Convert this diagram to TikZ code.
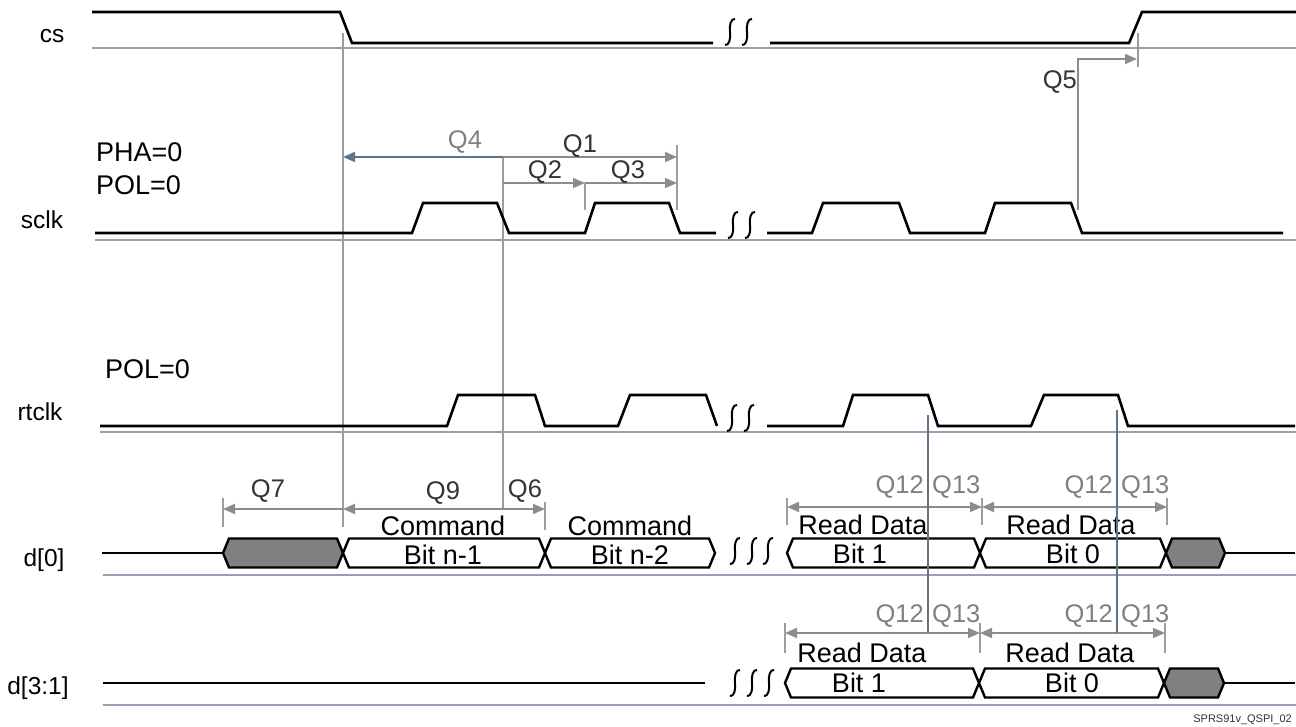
\documentclass[tikz,border=0pt]{standalone}
\usepackage{fontspec}
\setmainfont{Liberation Sans}
\usetikzlibrary{arrows.meta}
\definecolor{lav}{HTML}{9C9CB8}
\definecolor{dimg}{HTML}{8C8C8C}
\definecolor{slate}{HTML}{5E7684}
\definecolor{qdark}{HTML}{333333}
\definecolor{qlight}{HTML}{808080}
\definecolor{busgray}{HTML}{808080}
\newcommand\hexbus[4][white]{\filldraw[busline,fill=#1] (#2,#4) -- (#2+6,#4-14.5) -- (#3-6,#4-14.5) -- (#3,#4) -- (#3-6,#4+14.5) -- (#2+6,#4+14.5) -- cycle;}
\begin{document}
\begin{tikzpicture}[x=1pt,y=-1pt,
  sig/.style={line width=2.6pt,draw=black,line join=miter},
  busline/.style={line width=2.4pt,draw=black,line join=miter},
  basel/.style={line width=2.6pt,draw=lav},
  dimline/.style={line width=1.8pt,draw=dimg,fill=dimg},
  vline/.style={line width=1.8pt,draw=dimg!85!white},
  rtv/.style={line width=1.3pt,draw=slate},
  arr/.style={-{Triangle[length=12pt,width=10pt]}},
  arrb/.style={{Triangle[length=12pt,width=10pt]}-{Triangle[length=12pt,width=10pt]}},
  lab/.style={font=\fontsize{24.5}{28}\selectfont,anchor=base,inner sep=0pt},
  big/.style={font=\fontsize{27}{30}\selectfont,anchor=base,inner sep=0pt},
  q/.style={font=\fontsize{25.5}{28}\selectfont,anchor=base,inner sep=0pt,text=qdark},
  ql/.style={q,text=qlight},
  squig/.pic={\draw[line width=2pt,draw=black] (-5,13) .. controls (-1,14) and (1,6) .. (0,0) .. controls (-1,-6) and (1,-14) .. (5,-13);}
]
\useasboundingbox (0,0) rectangle (1296,727);

% baselines
\draw[basel] (92,48) -- (1296,48);
\draw[basel] (95,240) -- (1296,240);
\draw[basel] (100,432) -- (1296,432);
\draw[basel] (103,575) -- (1296,575);
\draw[basel] (103,705) -- (1296,705);

% signal labels
\node[lab] (lcs) at (52,43) {cs};
\node[lab] (lsclk) at (42,229) {sclk};
\node[lab] (lrt) at (40,420) {rtclk};
\node[lab] (ld0) at (44,566) {d[0]};
\node[lab] (ld31) at (38,694) {d[3:1]};
\node[big,anchor=base west] (pha) at (96,162) {PHA=0};
\node[big,anchor=base west] (pol1) at (96,195) {POL=0};
\node[big,anchor=base west] (pol2) at (105,378) {POL=0};

% coordinates for verticals and ticks
\coordinate (v1t) at (343,33);
\coordinate (v1b) at (343,527);
\coordinate (v2t) at (503,157);
\coordinate (v2b) at (503,509);
\coordinate (q4l) at (343,157);
\coordinate (q1r) at (677,157);
\coordinate (q2m) at (503,183);
\coordinate (q3l) at (585,183);
\coordinate (q3r) at (677,183);
\coordinate (t1t) at (677,145);
\coordinate (t1b) at (677,210);
\coordinate (t2b) at (585,210);
\coordinate (q5b) at (1078,210);
\coordinate (q5c) at (1078,59);
\coordinate (q5r) at (1137,59);
\coordinate (t5t) at (1138,33);
\coordinate (t5b) at (1138,67);
\coordinate (q7l) at (223,509);
\coordinate (q7r) at (343,509);
\coordinate (q6r) at (545,509);
\coordinate (t7t) at (223,498);
\coordinate (t7b) at (223,527);
\coordinate (t6t) at (545,502);
\coordinate (t6b) at (545,530);

% verticals
\draw[vline] (v1t) -- (v1b);
\draw[vline] (v2t) -- (v2b);
\draw[vline] (t1t) -- (t1b);
\draw[vline] (q3l) -- (t2b);
\draw[vline] (t5t) -- (t5b);
\draw[vline] (t7t) -- (t7b);
\draw[vline] (t6t) -- (t6b);

% dimension arrows top
\draw[line width=1.8pt,draw=slate,fill=slate,arr] (v2t) -- (q4l);
\draw[dimline,arr] (v2t) -- (q1r);
\draw[dimline,arr] (q2m) -- (q3l);
\draw[dimline,arr] (q3l) -- (q3r);
\draw[dimline,fill=none,arr] (q5b) -- (q5c) -- (q5r);
\node[ql] (tq4) at (465,149) {Q4};
\node[q] (tq1) at (580,153) {Q1};
\node[q] (tq2) at (545,179) {Q2};
\node[q] (tq3) at (628,179) {Q3};
\node[q,anchor=base east] (tq5) at (1077,89) {Q5};

% d0 dims
\draw[dimline,arr] (q7r) -- (q7l);
\draw[dimline,arr] (v2b) -- (q7r);
\draw[dimline,arr] (v2b) -- (q6r);
\node[q] (tq7) at (268,497) {Q7};
\node[q] (tq9) at (443,499) {Q9};
\node[q] (tq6) at (525,497) {Q6};

% Q12/Q13 dims, d0
\foreach \x in {787,982,1167} {\draw[vline] (\x,498) -- (\x,525);}
\coordinate (a1) at (787,507);
\coordinate (a2) at (982,507);
\coordinate (a3) at (1167,507);
\draw[dimline,arrb] (a1) -- (a2);
\draw[dimline,arrb] (a2) -- (a3);
\node[ql,anchor=base east] at (924,493) {Q12};
\node[ql,anchor=base west] at (932,493) {Q13};
\node[ql,anchor=base east] at (1113,493) {Q12};
\node[ql,anchor=base west] at (1121,493) {Q13};

% Q12/Q13 dims, d31
\foreach \x in {785,980,1165} {\draw[vline] (\x,623) -- (\x,653);}
\coordinate (b1) at (785,633);
\coordinate (b2) at (980,633);
\coordinate (b3) at (1165,633);
\draw[dimline,arrb] (b1) -- (b2);
\draw[dimline,arrb] (b2) -- (b3);
\node[ql,anchor=base east] at (924,622) {Q12};
\node[ql,anchor=base west] at (932,622) {Q13};
\node[ql,anchor=base east] at (1113,622) {Q12};
\node[ql,anchor=base west] at (1121,622) {Q13};

% rtclk verticals
\coordinate (r1t) at (928,415);
\coordinate (r1b) at (928,633);
\coordinate (r2t) at (1117,410);
\coordinate (r2b) at (1117,633);

% cs
\draw[sig] (92,12) -- (340,12) -- (352,43) -- (713,43);
\draw[sig] (770,43) -- (1129,43) -- (1142,12) -- (1296,12);
\pic at (730,32) {squig};
\pic at (747,32) {squig};

% sclk
\draw[sig] (95,233) -- (412,233) -- (423,203) -- (497,203) -- (509,233) -- (585,233) -- (595,203) -- (669,203) -- (680,233) -- (716,233);
\draw[sig] (767,233) -- (812,233) -- (823,203) -- (899,203) -- (910,233) -- (985,233) -- (995,203) -- (1071,203) -- (1082,233) -- (1283,233);
\pic at (733,225) {squig};
\pic at (750,225) {squig};

% rtclk
\draw[sig] (100,426) -- (447,426) -- (458,395) -- (535,395) -- (545,426) -- (618,426) -- (630,395) -- (706,395) -- (717,426);
\draw[sig] (767,426) -- (843,426) -- (853,395) -- (928,395) -- (938,426) -- (1031,426) -- (1044,395) -- (1118,395) -- (1128,426) -- (1295,426);
\pic at (732,418) {squig};
\pic at (749,418) {squig};

% d[0]
\draw[busline] (102,553) -- (223,553);
\hexbus[busgray]{223}{343}{553}
\hexbus{343}{545}{553}
\hexbus{545}{715}{553}
\hexbus{787}{980}{553}
\hexbus{980}{1166}{553}
\hexbus[busgray]{1166}{1225}{553}
\draw[busline] (1225,553) -- (1295,553);
\pic at (735,551) {squig};
\pic at (752,551) {squig};
\pic at (768,551) {squig};
\node[big] at (443,535) {Command};
\node[big] at (443,564) {Bit n-1};
\node[big] at (630,535) {Command};
\node[big] at (630,564) {Bit n-2};
\node[big] at (863,534) {Read Data};
\node[big] at (860,563) {Bit 1};
\node[big] at (1071,534) {Read Data};
\node[big] at (1073,563) {Bit 0};

% d[3:1]
\draw[busline] (103,683) -- (705,683);
\hexbus{785}{979}{683}
\hexbus{979}{1164}{683}
\hexbus[busgray]{1164}{1224}{683}
\draw[busline] (1224,683) -- (1295,683);
\pic at (735,683) {squig};
\pic at (752,683) {squig};
\pic at (769,683) {squig};
\node[big] at (862,662) {Read Data};
\node[big] at (859,692) {Bit 1};
\node[big] at (1070,662) {Read Data};
\node[big] at (1072,692) {Bit 0};

% rtclk verticals over the text, as in the reference
\draw[rtv] (r1t) -- (r1b);
\draw[rtv] (r2t) -- (r2b);

\node[font=\fontsize{11}{12}\selectfont,anchor=base east,inner sep=0pt,text=qdark] (foot) at (1292,722) {SPRS91v\_QSPI\_02};
\end{tikzpicture}
\end{document}
